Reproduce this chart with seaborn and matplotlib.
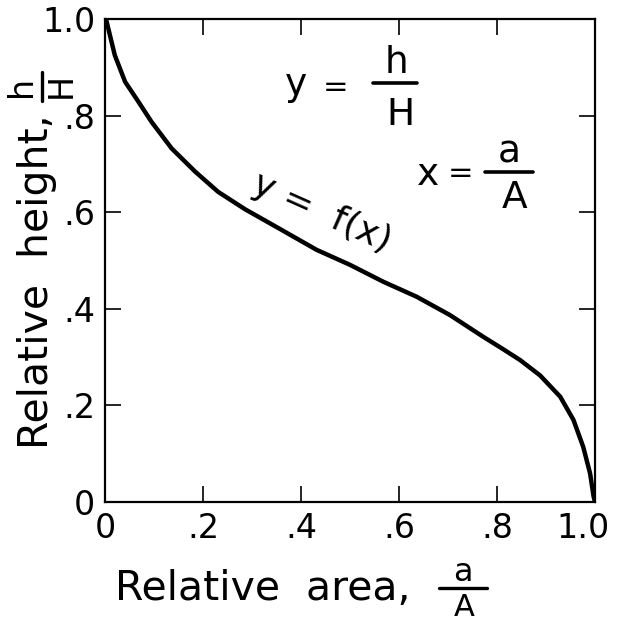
import matplotlib
matplotlib.use("Agg")
import matplotlib.pyplot as plt
from matplotlib.lines import Line2D
from matplotlib.transforms import ScaledTranslation
import pandas as pd
import seaborn as sns

# Hypsometric curve: relative height h/H against relative area a/A
rel_area = [0.0, 0.003, 0.02, 0.041, 0.068, 0.095, 0.136, 0.184, 0.231, 0.286,
            0.354, 0.432, 0.5, 0.568, 0.636, 0.704, 0.772, 0.81, 0.847, 0.888,
            0.929, 0.956, 0.976, 0.99, 0.997, 1.0]
rel_height = [1.0, 0.996, 0.925, 0.87, 0.829, 0.787, 0.732, 0.684, 0.642, 0.606,
              0.567, 0.522, 0.491, 0.456, 0.425, 0.387, 0.342, 0.318, 0.294, 0.262,
              0.218, 0.17, 0.114, 0.059, 0.012, 0.0]

tick_values = [0, 0.2, 0.4, 0.6, 0.8, 1.0]
tick_labels = ["0", ".2", ".4", ".6", ".8", "1.0"]

sns.set_theme(style="ticks")
plt.rcParams["font.family"] = ["DejaVu Sans"]

W, H = 618, 625
fig = plt.figure(figsize=(W / 100, H / 100), dpi=100)
fig.patch.set_facecolor("white")


def fx(px):
    return px / W


def fy(py):
    return 1 - py / H


ax = fig.add_axes([fx(105), fy(502), (595 - 105) / W, (502 - 19) / H])
ax.set_facecolor("white")

df = pd.DataFrame({"area": rel_area, "height": rel_height})
sns.lineplot(data=df, x="area", y="height", ax=ax, color="black",
             linewidth=3.2, sort=False, solid_capstyle="round")

ax.set_xlim(0, 1)
ax.set_ylim(0, 1)
ax.set_xlabel("")
ax.set_ylabel("")
ax.set_xticks(tick_values)
ax.set_xticklabels(tick_labels)
ax.set_yticks(tick_values)
ax.set_yticklabels(tick_labels)
ax.tick_params(axis="both", which="both", direction="in", length=11.5,
               width=1.2, color="black", labelsize=24, labelcolor="black",
               top=True, right=True, pad=7)
for side in ["left", "right", "top", "bottom"]:
    ax.spines[side].set_visible(True)
    ax.spines[side].set_linewidth(1.6)
    ax.spines[side].set_color("black")

# pull the last x tick label inward so it stays on the canvas
last_label = ax.get_xticklabels()[-1]
last_label.set_transform(last_label.get_transform()
                         + ScaledTranslation(-12 / 100, 0, fig.dpi_scale_trans))


def txt(px, py, s, size, **kw):
    fig.text(fx(px), fy(py), s, fontsize=size, color="black", **kw)


def bar(x0, x1, y0, y1, lw=2.4):
    fig.add_artist(Line2D([fx(x0), fx(x1)], [fy(y0), fy(y1)], color="black",
                          linewidth=lw, transform=fig.transFigure,
                          solid_capstyle="round"))


# x-axis title with fraction a/A
txt(115, 600, "Relative  area,", 29.5, ha="left", va="baseline")
txt(463, 581, "a", 23, ha="center", va="baseline")
bar(439, 487, 588, 588)
txt(464, 616, "A", 22, ha="center", va="baseline")

# y-axis title with fraction h/H (rotated)
txt(48, 282, "Relative  height,", 29.5, ha="center", va="baseline",
    rotation=90, rotation_mode="anchor")
txt(31, 86, "h", 24, ha="center", va="baseline", rotation=90,
    rotation_mode="anchor")
bar(42, 42, 72, 101)
txt(71, 86, "H", 24, ha="center", va="baseline", rotation=90,
    rotation_mode="anchor")

# definitions inside the plot
txt(296, 95, "y", 27, ha="center", va="baseline")
txt(336, 96, "=", 22, ha="center", va="baseline")
txt(396, 73, "h", 27, ha="center", va="baseline")
bar(373, 417, 83, 83, lw=2.6)
txt(400, 125, "H", 27, ha="center", va="baseline")

txt(428, 185, "x", 27, ha="center", va="baseline")
txt(461, 182, "=", 22, ha="center", va="baseline")
txt(509, 163, "a", 27, ha="center", va="baseline")
bar(485, 533, 172, 172, lw=2.6)
txt(515, 208, "A", 27, ha="center", va="baseline")

# curve label along the line
txt(322, 213, "y =  f(x)", 26, ha="center", va="center", rotation=-24,
    rotation_mode="anchor")

fig.savefig("out.png", dpi=100, facecolor="white")
